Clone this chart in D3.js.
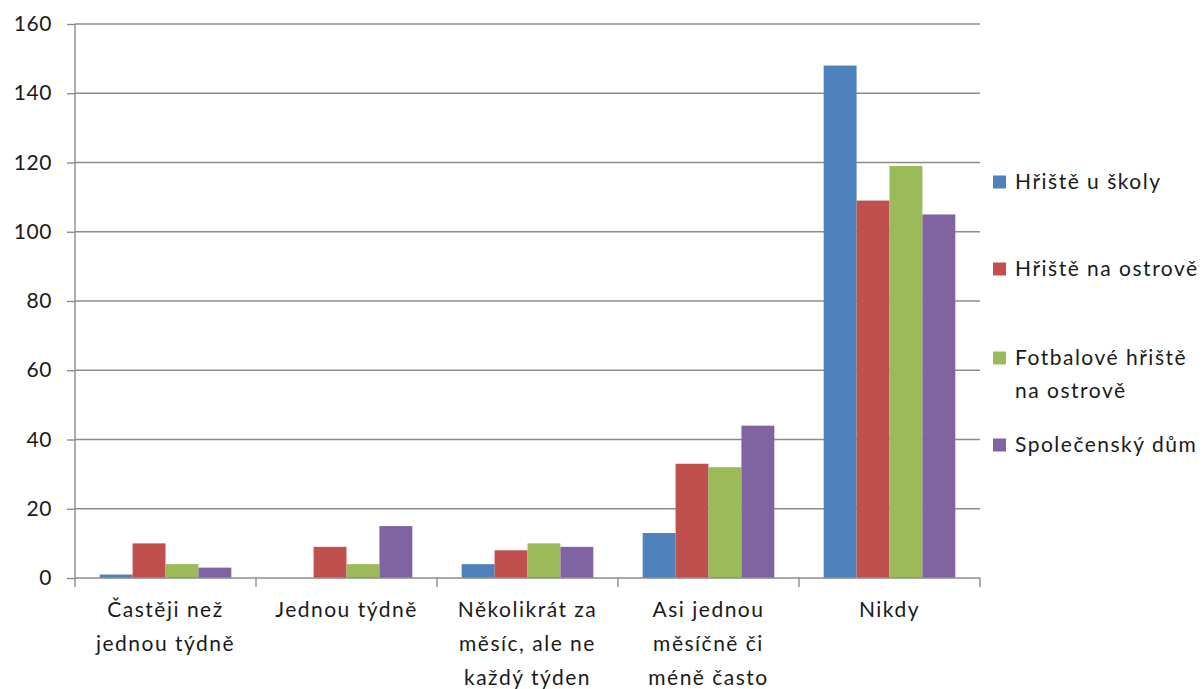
<!DOCTYPE html>
<html>
<head>
<meta charset="utf-8">
<script src="https://cdn.jsdelivr.net/npm/d3@7"></script>
<style>
  html, body { margin: 0; padding: 0; background: #fff; }
  svg text { font-family: Lato, "Noto Sans", sans-serif; fill: #1a1a1a; }
</style>
</head>
<body>
<svg id="chart" width="1204" height="689"></svg>
<script>
const categories = [
  ["Častěji než", "jednou týdně"],
  ["Jednou týdně"],
  ["Několikrát za", "měsíc, ale ne", "každý týden"],
  ["Asi jednou", "měsíčně či", "méně často"],
  ["Nikdy"]
];
const seriesNames = ["Hřiště u školy", "Hřiště na ostrově", "Fotbalové hřiště na ostrově", "Společenský dům"];
const legendLines = [["Hřiště u školy"], ["Hřiště na ostrově"], ["Fotbalové hřiště", "na ostrově"], ["Společenský dům"]];
const hristeUSkoly     = [1, 0, 4, 13, 148];
const hristeNaOstrove  = [10, 9, 8, 33, 109];
const fotbalove        = [4, 4, 10, 32, 119];
const spolecenskyDum   = [3, 15, 9, 44, 105];
const seriesValues = [hristeUSkoly, hristeNaOstrove, fotbalove, spolecenskyDum];
const yTicks = [0, 20, 40, 60, 80, 100, 120, 140, 160];
const colors = ["#4F81BD", "#C0504D", "#9BBB59", "#8064A2"];

(function () {
const svg = d3.select("#chart");
const pLeft = 75, pRight = 980, pTop = 24, pBottom = 578;

const x = d3.scaleBand().domain(d3.range(categories.length)).range([pLeft, pRight]).paddingInner(0).paddingOuter(0);
const y = d3.scaleLinear().domain([0, 160]).range([pBottom, pTop]);
const gap = 1.5; // Excel gap width 150%
const n = seriesValues.length;
const half = x.bandwidth() * gap / (n + gap) / 2;
const xs = d3.scaleBand().domain(d3.range(n)).range([half, x.bandwidth() - half]);

const gridColor = "#8c8c8c";

svg.append("g").selectAll("line").data(yTicks.filter(d => d > 0)).join("line")
  .attr("x1", pLeft).attr("x2", pRight)
  .attr("y1", d => y(d)).attr("y2", d => y(d))
  .attr("stroke", gridColor).attr("stroke-width", 1.4);

const yAxis = d3.axisLeft(y).tickValues(yTicks).tickSize(8).tickPadding(15);
const gy = svg.append("g").attr("transform", `translate(${pLeft},0)`).call(yAxis);
gy.select(".domain").attr("stroke", gridColor).attr("stroke-width", 1.4).attr("d", `M0,${y(160)}V${y(0)}`);
gy.selectAll(".tick line").attr("stroke", gridColor).attr("stroke-width", 1.4);
gy.selectAll(".tick text").style("font-size", "21px").style("font-family", "Lato, sans-serif")
  .style("letter-spacing", "0.6px").attr("fill", "#1a1a1a");

const groups = svg.append("g").selectAll("g").data(categories.map((c, i) => i)).join("g")
  .attr("transform", i => `translate(${x(i)},0)`);
groups.selectAll("rect").data(i => seriesValues.map((s, k) => ({k, v: s[i]}))).join("rect")
  .attr("x", d => xs(d.k)).attr("width", xs.bandwidth())
  .attr("y", d => y(d.v)).attr("height", d => y(0) - y(d.v))
  .attr("fill", d => colors[d.k]);

const xAxisLine = svg.append("g");
xAxisLine.append("line").attr("x1", pLeft).attr("x2", pRight).attr("y1", pBottom).attr("y2", pBottom)
  .attr("stroke", gridColor).attr("stroke-width", 1.4);
xAxisLine.selectAll("line.tk").data(d3.range(categories.length + 1)).join("line").attr("class", "tk")
  .attr("x1", i => pLeft + i * x.step()).attr("x2", i => pLeft + i * x.step())
  .attr("y1", pBottom).attr("y2", pBottom + 9)
  .attr("stroke", gridColor).attr("stroke-width", 1.4);

const catLabels = svg.append("g").selectAll("text").data(categories).join("text")
  .attr("text-anchor", "middle")
  .style("font-size", "21px")
  .style("letter-spacing", "1.5px")
  .attr("transform", (d, i) => `translate(${x(i) + x.bandwidth() / 2},0)`);
catLabels.selectAll("tspan").data(d => d).join("tspan")
  .attr("x", 0).attr("y", (d, j) => 617 + j * 34)
  .text(d => d);

const legendY = [182, 269, 358, 445];
const lg = svg.append("g").selectAll("g").data(legendLines).join("g")
  .attr("transform", (d, i) => `translate(993,${legendY[i]})`);
lg.append("rect").attr("x", 0).attr("y", -6.5).attr("width", 13).attr("height", 13).attr("fill", (d, i) => colors[i]);
lg.append("text").style("font-size", "21px").style("letter-spacing", "1.5px")
  .selectAll("tspan").data(d => d).join("tspan")
  .attr("x", 22).attr("y", (d, j) => 7 + j * 33).text(d => d);
})();
</script>
</body>
</html>
